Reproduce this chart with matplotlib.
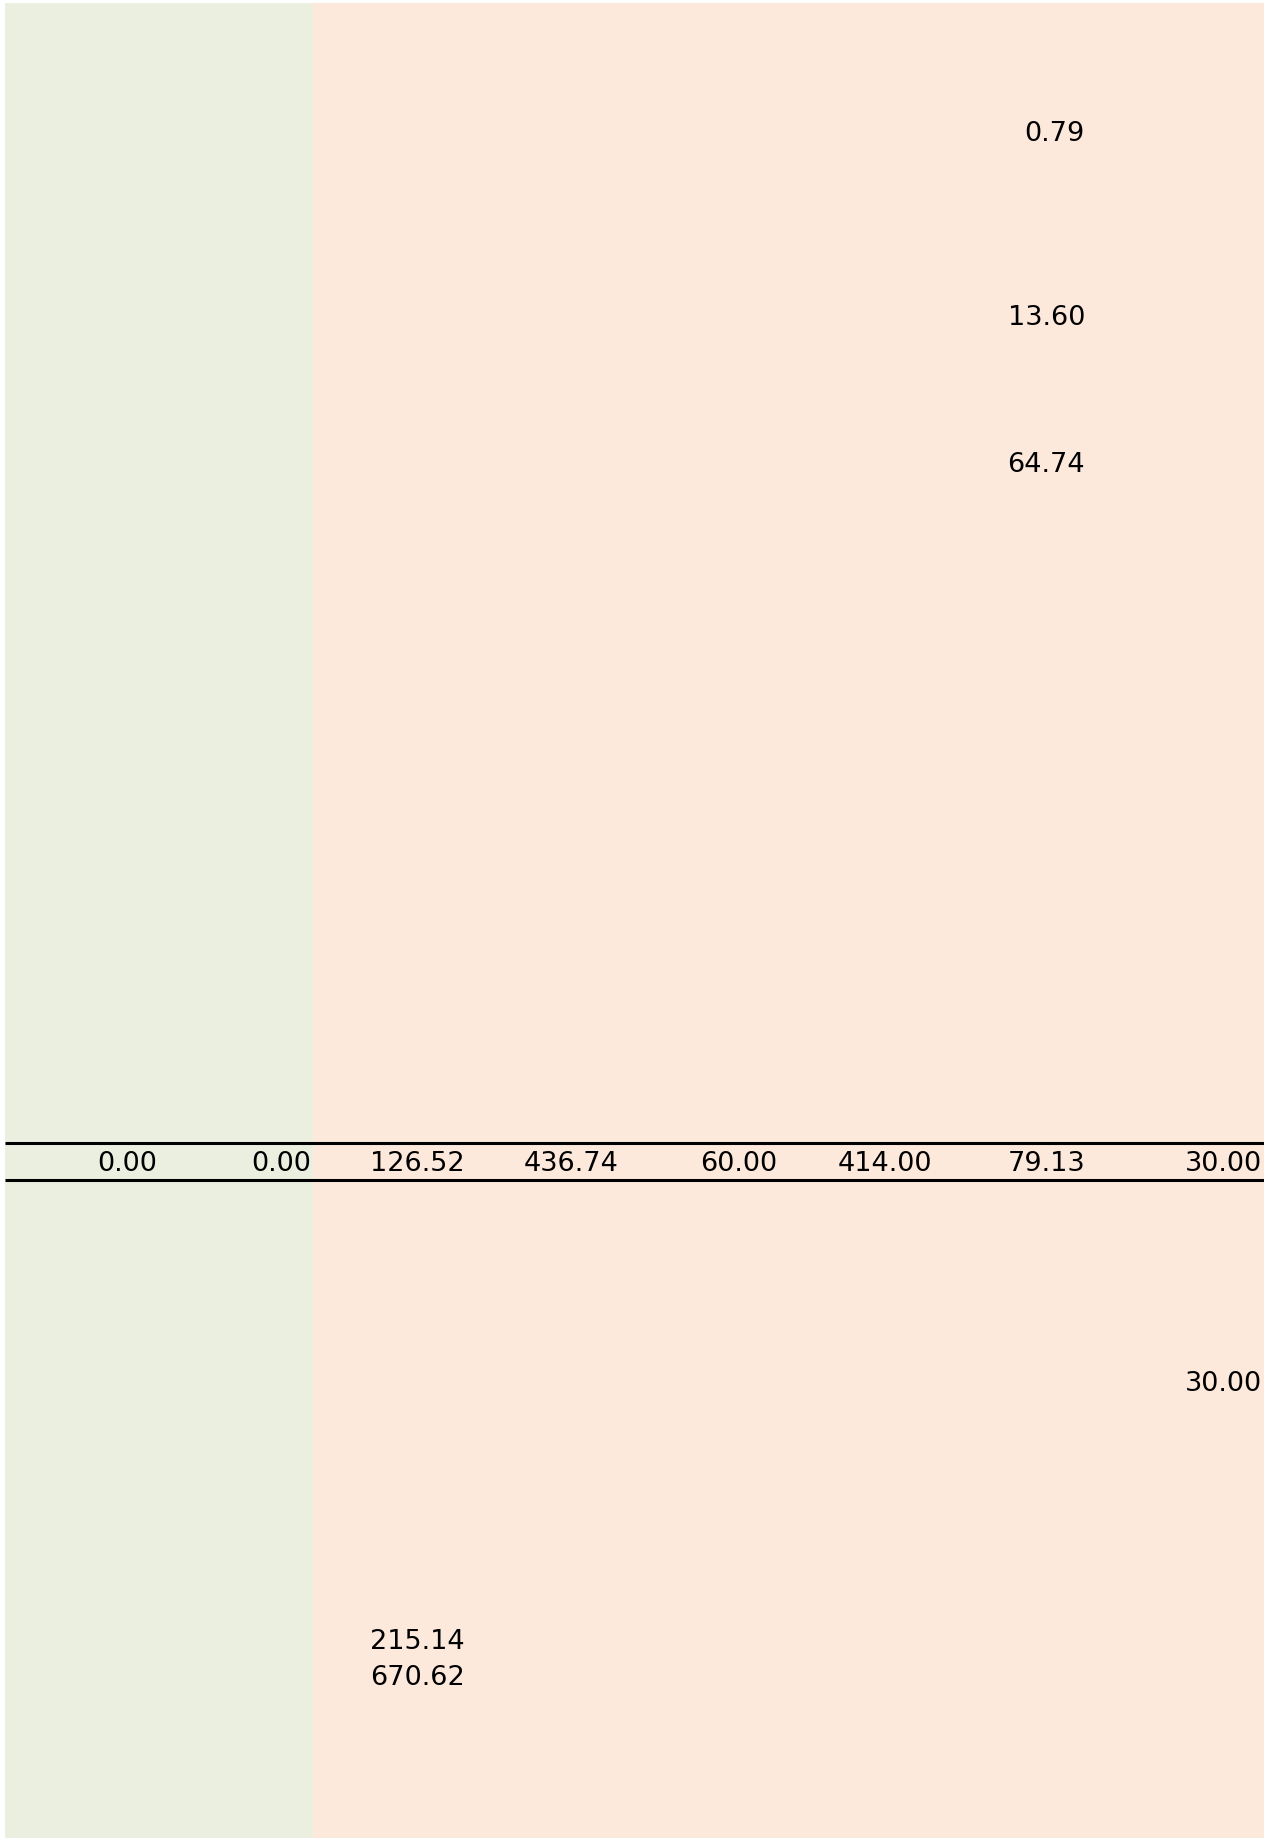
import matplotlib.pyplot as plt

# -----------------------------------------------------------------------------
# Fragment of a ledger-style table: two shaded column groups, a ruled
# totals row and a handful of single values scattered over the other rows.
# -----------------------------------------------------------------------------

# totals row (one value per column)
total_values = [0.00, 0.00, 126.52, 436.74, 60.00, 414.00, 79.13, 30.00]
total_row = 31

# single cells elsewhere in the table
cell_rows = [3, 8, 12, 37, 44, 45]
cell_cols = [6, 6, 6, 7, 2, 2]
cell_values = [0.79, 13.60, 64.74, 30.00, 215.14, 670.62]

# column groups: first two columns green, the rest peach
group_cols = [(0, 2), (2, 8)]
group_colors = ["#EBEFDF", "#FDE9DC"]

W, H = 1264, 1838
TOP = 3
ROW_H = 36.78
COL_RIGHT = [5, 159, 313, 467, 621, 779, 934, 1087, 1264]
PAD = 2
FONT_SIZE = 19.5


def row_center(r):
    # small nudge up so the digits sit where the reference has them
    return TOP + (r + 0.5) * ROW_H - 1


def main():
    fig = plt.figure(figsize=(W / 100, H / 100), dpi=100)
    ax = fig.add_axes([0, 0, 1, 1])
    ax.set_xlim(0, W)
    ax.set_ylim(H, 0)
    ax.axis("off")

    for (c0, c1), color in zip(group_cols, group_colors):
        ax.fill_between(
            [COL_RIGHT[c0], COL_RIGHT[c1]], TOP, H,
            color=color, linewidth=0, zorder=0,
        )

    # totals row with rules above and below
    y_top = TOP + total_row * ROW_H
    y_bot = TOP + (total_row + 1) * ROW_H
    for y in (y_top, y_bot):
        ax.plot([COL_RIGHT[0], W], [y, y], color="black", lw=2.2, zorder=2,
                solid_capstyle="butt")

    for col, value in enumerate(total_values):
        ax.text(COL_RIGHT[col + 1] - PAD, row_center(total_row), f"{value:.2f}",
                ha="right", va="center_baseline", fontsize=FONT_SIZE)

    for r, c, value in zip(cell_rows, cell_cols, cell_values):
        ax.text(COL_RIGHT[c + 1] - PAD, row_center(r), f"{value:.2f}",
                ha="right", va="center_baseline", fontsize=FONT_SIZE)

    fig.savefig("out.png", dpi=100, facecolor="white")
    plt.close(fig)


if __name__ == "__main__":
    main()
